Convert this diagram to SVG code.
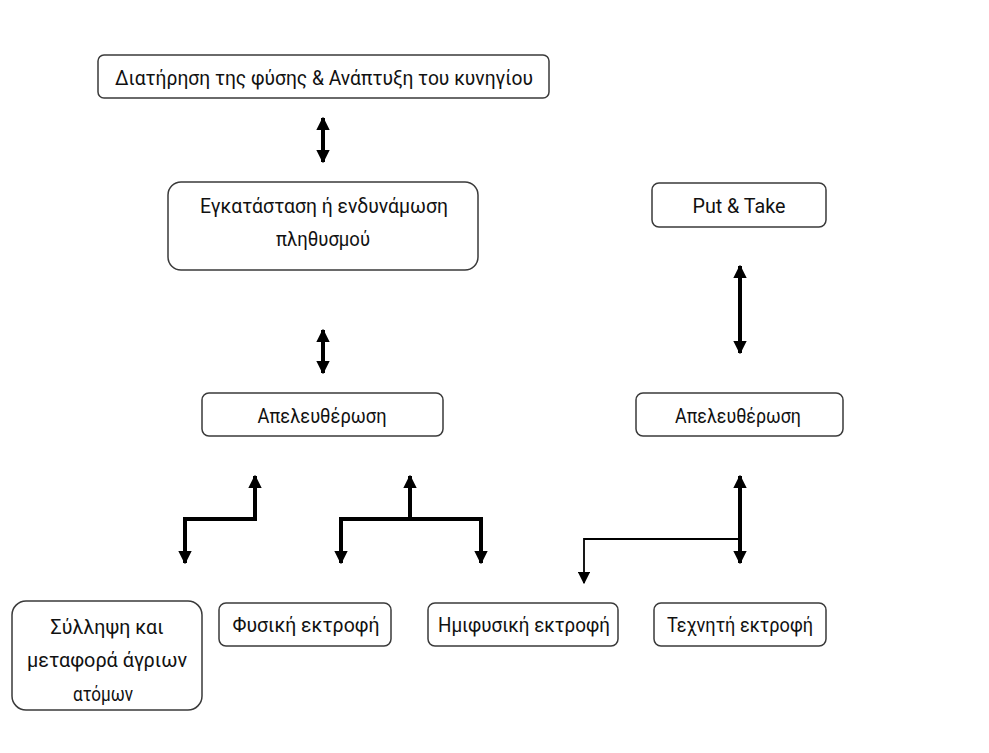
<svg xmlns="http://www.w3.org/2000/svg" width="989" height="753" viewBox="0 0 989 753">
<style>
.box{fill:#fff;stroke:#3a3a3a;stroke-width:1.5}
.t{font-family:Roboto,"Liberation Sans",sans-serif;font-size:21px;fill:#111;text-anchor:middle}
.thick{fill:none;stroke:#000;stroke-width:4}
.thin{fill:none;stroke:#000;stroke-width:1.8}
</style>
<defs>
<marker id="ah" viewBox="0 0 10 10" refX="9" refY="5" markerWidth="3.4" markerHeight="3.4" orient="auto-start-reverse" markerUnits="strokeWidth">
<path d="M0,0 L10,5 L0,10 z" fill="#000"/>
</marker>
<marker id="ahs" viewBox="0 0 10 10" refX="9" refY="5" markerWidth="7" markerHeight="7" orient="auto" markerUnits="strokeWidth">
<path d="M0,0 L10,5 L0,10 z" fill="#000"/>
</marker>
</defs>
<rect width="989" height="753" fill="#fff"/>
<g id="n1"><rect class="box" x="98" y="55" width="451" height="43" rx="6"/><text class="t" x="324" y="85" textLength="418" lengthAdjust="spacingAndGlyphs">Διατήρηση της φύσης &amp; Ανάπτυξη του κυνηγίου</text></g>
<g id="n2"><rect class="box" x="168" y="182" width="310" height="88" rx="13"/><text class="t" x="324" y="213" textLength="248" lengthAdjust="spacingAndGlyphs">Εγκατάσταση ή ενδυνάμωση</text><text class="t" x="323" y="246" textLength="94" lengthAdjust="spacingAndGlyphs">πληθυσμού</text></g>
<g id="n3"><rect class="box" x="652" y="183" width="174" height="44" rx="7"/><text class="t" x="739" y="213" textLength="93" lengthAdjust="spacingAndGlyphs">Put &amp; Take</text></g>
<g id="n4"><rect class="box" x="202" y="393" width="241" height="43" rx="7"/><text class="t" x="322" y="423" textLength="129" lengthAdjust="spacingAndGlyphs">Απελευθέρωση</text></g>
<g id="n5"><rect class="box" x="636" y="393" width="207" height="43" rx="7"/><text class="t" x="738" y="423" textLength="126" lengthAdjust="spacingAndGlyphs">Απελευθέρωση</text></g>
<g id="n6"><rect class="box" x="12" y="601" width="190" height="109" rx="14"/><text class="t" x="107" y="634" textLength="113" lengthAdjust="spacingAndGlyphs">Σύλληψη και</text><text class="t" x="107" y="667" textLength="160" lengthAdjust="spacingAndGlyphs">μεταφορά άγριων</text><text class="t" x="103" y="701" textLength="60" lengthAdjust="spacingAndGlyphs">ατόμων</text></g>
<g id="n7"><rect class="box" x="219" y="603" width="172" height="43" rx="7"/><text class="t" x="306" y="632" textLength="147" lengthAdjust="spacingAndGlyphs">Φυσική εκτροφή</text></g>
<g id="n8"><rect class="box" x="428" y="603" width="190" height="43" rx="7"/><text class="t" x="524" y="632" textLength="172" lengthAdjust="spacingAndGlyphs">Ημιφυσική εκτροφή</text></g>
<g id="n9"><rect class="box" x="654" y="603" width="172" height="43" rx="7"/><text class="t" x="740" y="632" textLength="146" lengthAdjust="spacingAndGlyphs">Τεχνητή εκτροφή</text></g>
<g id="connectors">
<line class="thick" x1="323" y1="118" x2="323" y2="162" marker-start="url(#ah)" marker-end="url(#ah)"/>
<line class="thick" x1="323" y1="330" x2="323" y2="373" marker-start="url(#ah)" marker-end="url(#ah)"/>
<line class="thick" x1="740" y1="266" x2="740" y2="353" marker-start="url(#ah)" marker-end="url(#ah)"/>
<line class="thick" x1="740" y1="476" x2="740" y2="563" marker-start="url(#ah)" marker-end="url(#ah)"/>
<polyline class="thick" points="255,476 255,519 185,519 185,563" marker-start="url(#ah)" marker-end="url(#ah)"/>
<line class="thick" x1="410" y1="519" x2="410" y2="476" marker-end="url(#ah)"/>
<polyline class="thick" points="341,563 341,519 481,519 481,563" marker-start="url(#ah)" marker-end="url(#ah)"/>
<polyline class="thin" points="740,539 584,539 584,583" marker-end="url(#ahs)"/>
</g>
</svg>
